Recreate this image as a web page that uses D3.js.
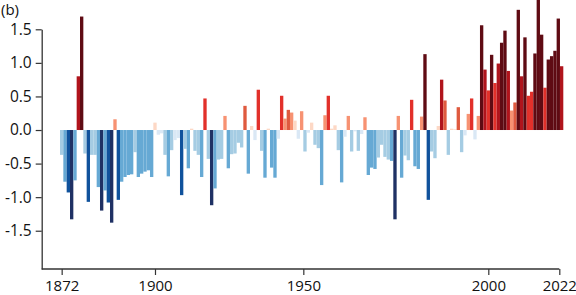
<!DOCTYPE html>
<html>
<head>
<meta charset="utf-8">
<script src="https://cdn.jsdelivr.net/npm/d3@7"></script>
<style>
  body { margin: 0; background: #fff; }
  svg { display: block; font-family: "Open Sans", sans-serif; }
</style>
</head>
<body>
<svg width="576" height="295"></svg>
<script>
// yearly anomaly, 1872 .. 2022
const firstYear = 1872;
const lastYear = 2022;
const anomalies = [
  -0.37, -0.77, -0.93, -1.33, -0.75, 0.80, 1.69, -0.35,            // 1872-1879
  -1.07, -0.37, -0.37, -0.85, -1.20, -0.90, -1.08, -1.38, 0.16, -1.04, // 1880s
  -0.77, -0.70, -0.67, -0.66, -0.33, -0.70, -0.65, -0.62, -0.60, -0.70, // 1890s
  0.11, -0.07, -0.05, -0.37, -0.69, -0.30, -0.15, -0.12, -0.97, -0.28,  // 1900s
  -0.57, 0.02, -0.31, -0.37, -0.70, 0.47, -0.43, -1.12, -0.87, -0.44,   // 1910s
  -0.43, 0.21, -0.57, -0.36, -0.35, -0.19, -0.26, 0.36, -0.65, 0.06,    // 1920s
  -0.15, 0.60, -0.31, -0.71, 0.02, -0.56, -0.71, -0.13, 0.51, 0.17,     // 1930s
  0.30, 0.26, 0.14, -0.13, 0.28, -0.32, -0.04, 0.11, -0.22, -0.27,      // 1940s
  -0.82, 0.22, 0.51, 0.02, 0.07, -0.30, -0.78, -0.10, 0.21, -0.32,      // 1950s
  -0.02, -0.31, -0.06, 0.19, -0.67, -0.56, -0.58, -0.41, -0.22, -0.40,  // 1960s
  -0.44, -0.46, -1.33, 0.21, -0.71, -0.38, -0.45, 0.45, -0.54, -0.58,   // 1970s
  0.20, 1.13, -1.04, -0.32, -0.42, 0.06, 0.75, 0.44, -0.37, 0.02,       // 1980s
  0.01, 0.34, -0.33, -0.08, 0.24, 0.47, -0.14, 0.21, 1.56, 0.90,        // 1990s
  0.59, 1.12, 0.70, 0.99, 1.30, 1.48, 0.88, 0.29, 0.41, 1.79,           // 2000s
  0.80, 1.38, 0.51, 0.57, 1.14, 1.94, 1.42, 0.63, 1.05, 1.10,           // 2010s
  1.18, 1.66, 0.95                                                      // 2020-2022
];
const years = d3.range(firstYear, lastYear + 1);

const yTicks = [-1.5, -1.0, -0.5, 0, 0.5, 1.0, 1.5];
const xTickLabels = ["1872", "1900", "1950", "2000", "2022"];
// the picture puts its "1950" label a few bars left of the 1950 bar,
// and its "2022" tick a little inside the last bar
const xTickAt = [1872, 1900, 1944.5, 2000, 2021.3];

const colorBreaks = [-1.1, -0.9, -0.45, -0.15, 0, 0.15, 0.3, 0.45, 0.75, 1.0];
const colorSteps = ["#1f3164", "#10529c", "#66a9d4", "#a5cce3", "#dae8f5",
                    "#fdd8c5", "#f79272", "#df5a3f", "#e2302a", "#b0141c", "#5f0b13"];

const data = years.map((yr, i) => ({ year: yr, value: anomalies[i] }));

const svg = d3.select("svg");

const x = d3.scaleBand()
  .domain(years)
  .range([60, 563.3])
  .padding(0);

const y = d3.scaleLinear()
  .domain([-2.07, 1.5])
  .range([269, 29.3]);

const color = d3.scaleThreshold()
  .domain(colorBreaks)
  .range(colorSteps);

// axis for the year labels, centred on the bars
const xt = d3.scaleLinear()
  .domain([firstYear, lastYear])
  .range([x(firstYear) + x.bandwidth() / 2, x(lastYear) + x.bandwidth() / 2]);

const axisX = 41.7;

// bars
svg.append("g")
  .selectAll("rect")
  .data(data)
  .join("rect")
    .attr("x", d => x(d.year))
    .attr("width", x.bandwidth())
    .attr("y", d => Math.min(y(d.value), y(0)))
    .attr("height", d => Math.abs(y(d.value) - y(0)))
    .attr("fill", d => color(d.value));

// y axis
const fmt = d3.formatLocale({ decimal: ".", thousands: ",", grouping: [3], currency: ["", ""], minus: "-" }).format(".1f");

const gy = svg.append("g")
  .attr("transform", `translate(${axisX},0)`)
  .call(d3.axisLeft(y).tickValues(yTicks).tickFormat(fmt).tickSize(6).tickSizeOuter(0).tickPadding(4));

gy.select(".domain").attr("stroke", "#333").attr("stroke-width", 1.3);
gy.selectAll(".tick line").attr("stroke", "#333").attr("stroke-width", 1.2);
gy.selectAll("text").attr("font-size", 15.5).attr("fill", "#111").attr("font-family", "Open Sans, sans-serif");

// x axis
const gx = svg.append("g")
  .attr("transform", `translate(0,${y(-2.07)})`)
  .call(d3.axisBottom(xt).tickValues(xTickAt).tickFormat((d, i) => xTickLabels[i]).tickSize(6).tickSizeOuter(0).tickPadding(5));

gx.select(".domain").remove();
gx.append("line")
  .attr("x1", axisX)
  .attr("x2", xt(xTickAt[xTickAt.length - 1]))
  .attr("stroke", "#333")
  .attr("stroke-width", 1.3);
gx.selectAll(".tick line").attr("stroke", "#333").attr("stroke-width", 1.2);
gx.selectAll("text").attr("font-size", 15).attr("fill", "#111").attr("font-family", "Open Sans, sans-serif");

// panel label
svg.append("text")
  .attr("x", 1)
  .attr("y", 15)
  .attr("font-size", 15)
  .attr("fill", "#111")
  .text("(b)");
</script>
</body>
</html>
